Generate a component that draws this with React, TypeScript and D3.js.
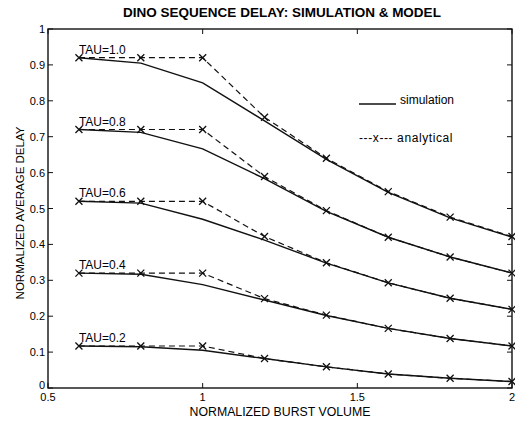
import React, { useRef, useEffect } from 'react';
import * as d3 from 'd3';

// burst volume values (x)
const burst = [0.6, 0.8, 1.0, 1.2, 1.4, 1.6, 1.8, 2.0];
const tauLabels = ['TAU=1.0', 'TAU=0.8', 'TAU=0.6', 'TAU=0.4', 'TAU=0.2'];

// simulation curves, one per TAU
const sim10 = [0.92, 0.905, 0.85, 0.744, 0.637, 0.545, 0.474, 0.42];
const sim08 = [0.72, 0.712, 0.666, 0.583, 0.492, 0.42, 0.365, 0.32];
const sim06 = [0.52, 0.515, 0.47, 0.412, 0.348, 0.293, 0.25, 0.219];
const sim04 = [0.32, 0.317, 0.288, 0.245, 0.202, 0.166, 0.138, 0.117];
const sim02 = [0.117, 0.115, 0.105, 0.082, 0.059, 0.039, 0.027, 0.018];

// analytical model curves
const ana10 = [0.92, 0.92, 0.92, 0.754, 0.64, 0.547, 0.476, 0.422];
const ana08 = [0.72, 0.72, 0.72, 0.589, 0.494, 0.42, 0.365, 0.32];
const ana06 = [0.52, 0.52, 0.52, 0.422, 0.349, 0.293, 0.25, 0.219];
const ana04 = [0.32, 0.32, 0.32, 0.249, 0.203, 0.166, 0.138, 0.117];
const ana02 = [0.117, 0.117, 0.117, 0.082, 0.059, 0.039, 0.027, 0.018];

const xTicks = [0.5, 1, 1.5, 2];
const yTicks = [0, 0.1, 0.2, 0.3, 0.4, 0.5, 0.6, 0.7, 0.8, 0.9, 1];

const App = () => {
    const chartRef = useRef<SVGSVGElement>(null);

    useEffect(() => {
        document.body.style.margin = '0';
        const svg = d3.select(chartRef.current);
        svg.selectAll('*').remove();

        const font = 'Arial, "Liberation Sans", sans-serif';
        const left = 48, right = 512, top = 29, bottom = 388;

        const x = d3.scaleLinear().domain([0.5, 2]).range([left, right]);
        const y = d3.scaleLinear().domain([0, 1]).range([bottom, top]);

        const sims = [sim10, sim08, sim06, sim04, sim02];
        const anas = [ana10, ana08, ana06, ana04, ana02];

        // frame
        svg.append('rect')
            .attr('x', left).attr('y', top)
            .attr('width', right - left).attr('height', bottom - top)
            .attr('fill', 'none').attr('stroke', '#111').attr('stroke-width', 1.4);

        // ticks (inward, on all sides)
        const tk = 5;
        yTicks.forEach((t) => {
            svg.append('line').attr('x1', left).attr('x2', left + tk)
                .attr('y1', y(t)).attr('y2', y(t)).attr('stroke', '#111');
            svg.append('line').attr('x1', right).attr('x2', right - tk)
                .attr('y1', y(t)).attr('y2', y(t)).attr('stroke', '#111');
            svg.append('text')
                .attr('x', left - 3).attr('y', t === 0 ? y(t) + 1 : y(t) + 4)
                .attr('text-anchor', 'end')
                .style('font-family', font).style('font-size', '11px')
                .text(t === 0 || t === 1 ? String(t) : t.toFixed(1));
        });
        xTicks.forEach((t) => {
            svg.append('line').attr('x1', x(t)).attr('x2', x(t))
                .attr('y1', bottom).attr('y2', bottom - tk).attr('stroke', '#111');
            svg.append('line').attr('x1', x(t)).attr('x2', x(t))
                .attr('y1', top).attr('y2', top + tk).attr('stroke', '#111');
            svg.append('text')
                .attr('x', x(t)).attr('y', bottom + 13)
                .attr('text-anchor', 'middle')
                .style('font-family', font).style('font-size', '11px')
                .text(String(t));
        });

        const line = d3.line<number>()
            .x((d, i) => x(burst[i]))
            .y((d) => y(d));

        sims.forEach((s) => {
            svg.append('path').attr('d', line(s))
                .attr('fill', 'none').attr('stroke', '#111').attr('stroke-width', 1.4);
        });
        anas.forEach((a) => {
            svg.append('path').attr('d', line(a))
                .attr('fill', 'none').attr('stroke', '#111').attr('stroke-width', 1.2)
                .attr('stroke-dasharray', '6,4');
            const m = 3.5;
            a.forEach((v, i) => {
                const cx = x(burst[i]), cy = y(v);
                svg.append('path')
                    .attr('d', `M${cx - m},${cy - m}L${cx + m},${cy + m}M${cx - m},${cy + m}L${cx + m},${cy - m}`)
                    .attr('stroke', '#111').attr('stroke-width', 1.3);
            });
        });

        // TAU labels
        tauLabels.forEach((lab, i) => {
            svg.append('text')
                .attr('x', x(burst[0])).attr('y', y(anas[i][0]) - 4)
                .style('font-family', font).style('font-size', '12px')
                .text(lab);
        });

        // legend
        svg.append('line').attr('x1', 359).attr('x2', 396)
            .attr('y1', 104).attr('y2', 104).attr('stroke', '#111').attr('stroke-width', 1.3);
        svg.append('text').attr('x', 400).attr('y', 104)
            .style('font-family', font).style('font-size', '12px').text('simulation');
        svg.append('text').attr('x', 359).attr('y', 142)
            .style('font-family', font).style('font-size', '12px')
            .style('letter-spacing', '0.6px')
            .text('---x--- analytical');

        // title and axis labels
        svg.append('text').attr('x', 282).attr('y', 17)
            .attr('text-anchor', 'middle')
            .style('font-family', font).style('font-size', '13.5px').style('font-weight', 'bold')
            .text('DINO SEQUENCE DELAY: SIMULATION & MODEL');
        svg.append('text').attr('x', 280).attr('y', 416)
            .attr('text-anchor', 'middle')
            .style('font-family', font).style('font-size', '12.3px')
            .text('NORMALIZED BURST VOLUME');
        svg.append('text')
            .attr('transform', `translate(24,213) rotate(-90)`)
            .attr('text-anchor', 'middle')
            .style('font-family', font).style('font-size', '11.5px')
            .text('NORMALIZED AVERAGE DELAY');
    }, []);

    return <svg ref={chartRef} width={515} height={421} style={{ display: 'block', background: '#fff' }}></svg>;
};

export default App;
